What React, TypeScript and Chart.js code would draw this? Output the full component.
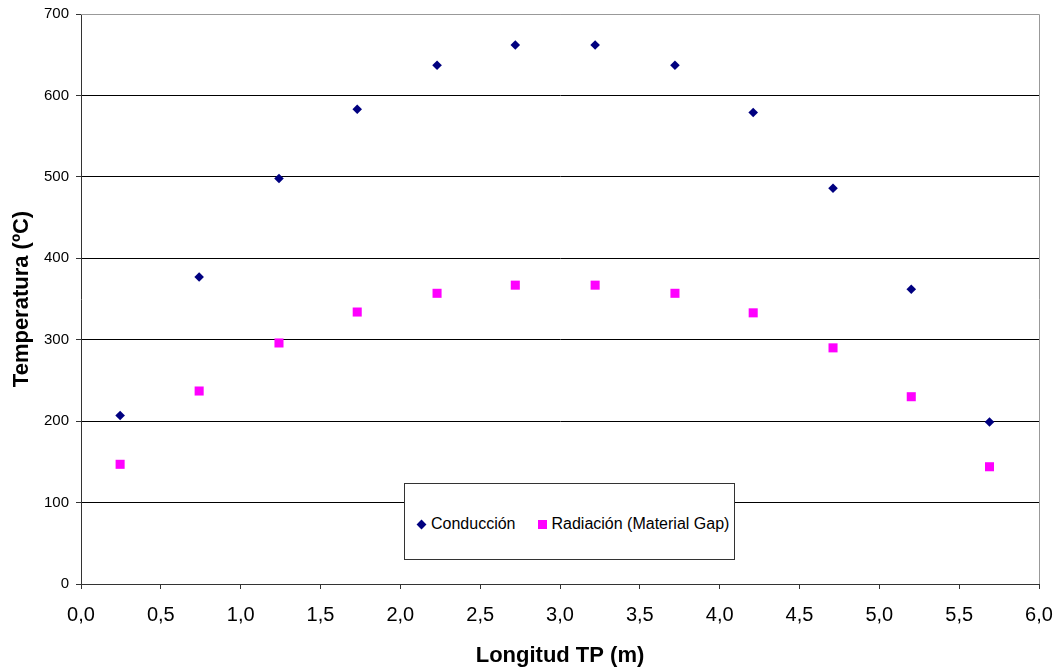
import React, { useEffect, useRef } from "react";
import { Chart, registerables } from "chart.js";

Chart.register(...registerables);

const xPositions = [0.245, 0.74, 1.24, 1.73, 2.23, 2.72, 3.22, 3.72, 4.21, 4.71, 5.2, 5.69];
const conduccion = [207, 377, 498, 583, 637, 662, 662, 637, 579, 486, 362, 199];
const radiacion = [147, 237, 296, 334, 357, 367, 367, 357, 333, 290, 230, 144];
const seriesNames = ["Conducción", "Radiación (Material Gap)"];
const xTitle = "Longitud TP (m)";
const yTitle = "Temperatura (ºC)";

const FONT = "'Liberation Sans', Arial, sans-serif";

const frame = {
  id: "frame",
  afterDraw(chart: any) {
    const { ctx, chartArea } = chart;
    ctx.save();
    ctx.strokeStyle = "#999999";
    ctx.lineWidth = 1;
    ctx.beginPath();
    ctx.moveTo(chartArea.left, chartArea.top + 0.5);
    ctx.lineTo(chartArea.right + 0.5, chartArea.top + 0.5);
    ctx.lineTo(chartArea.right + 0.5, chartArea.bottom);
    ctx.stroke();
    ctx.restore();
  },
};

export default function App() {
  const ref = useRef<HTMLCanvasElement>(null);
  useEffect(() => {
    document.body.style.margin = "0";
    const chart = new Chart(ref.current as HTMLCanvasElement, {
      type: "scatter",
      data: {
        datasets: [
          {
            label: seriesNames[0],
            data: xPositions.map((x, i) => ({ x, y: conduccion[i] })),
            pointStyle: "rectRot",
            pointRadius: 4.8,
            backgroundColor: "#000080",
            borderColor: "#000080",
            borderWidth: 0,
          },
          {
            label: seriesNames[1],
            data: xPositions.map((x, i) => ({ x, y: radiacion[i] })),
            pointStyle: "rect",
            pointRadius: 6.4,
            backgroundColor: "#FF00FF",
            borderColor: "#FF00FF",
            borderWidth: 0,
          },
        ],
      },
      options: {
        animation: false,
        responsive: false,
        layout: { padding: { left: 0, top: 14, right: 21, bottom: 0 } },
        plugins: { legend: { display: false }, tooltip: { enabled: false } },
        scales: {
          x: {
            type: "linear",
            min: 0,
            max: 6,
            afterFit: (s: any) => {
              s.height = 85;
              s.paddingLeft = 0;
              s.paddingRight = 0;
            },
            ticks: {
              stepSize: 0.5,
              color: "#000",
              font: { family: FONT, size: 20 },
              padding: 14,
              callback: (v: any) => Number(v).toFixed(1).replace(".", ","),
            },
            grid: { drawOnChartArea: false, drawTicks: true, tickLength: 5, color: "#333" },
            border: { color: "#333", width: 1 },
            title: {
              display: true,
              text: xTitle,
              color: "#000",
              font: { family: FONT, size: 22, weight: "bold" },
              padding: { top: 0, bottom: 0 },
            },
          },
          y: {
            min: 0,
            max: 700,
            afterFit: (s: any) => {
              s.width = 81;
              s.paddingTop = 0;
              s.paddingBottom = 0;
            },
            ticks: {
              stepSize: 100,
              color: "#000",
              font: { family: FONT, size: 15 },
              padding: 7,
            },
            grid: {
              color: (c: any) => (c.tick && c.tick.value === 700 ? "#999999" : "#000"),
              tickColor: "#333",
              tickLength: 5,
              lineWidth: 1,
            },
            border: { color: "#333", width: 1 },
            title: {
              display: true,
              text: yTitle,
              color: "#000",
              font: { family: FONT, size: 22, weight: "bold" },
              padding: { top: 9, bottom: 0 },
            },
          },
        },
      },
      plugins: [frame],
    } as any);
    return () => chart.destroy();
  }, []);

  return (
    <div style={{ position: "relative", width: 1060, height: 669, background: "#fff" }}>
      <canvas ref={ref} width={1060} height={669} style={{ display: "block" }} />
      <div
        style={{
          position: "absolute",
          left: 404,
          top: 483,
          width: 331,
          height: 77,
          border: "1px solid #333",
          background: "#fff",
          boxSizing: "border-box",
          fontFamily: FONT,
          fontSize: 16,
          color: "#000",
          display: "flex",
          alignItems: "center",
          paddingLeft: 13,
          paddingTop: 5,
        }}
      >
        <span style={{ display: "inline-block", width: 7, height: 7, background: "#000080", transform: "rotate(45deg)", marginRight: 6 }} />
        <span>{seriesNames[0]}</span>
        <span style={{ display: "inline-block", width: 9, height: 9, background: "#FF00FF", marginLeft: 22, marginRight: 5 }} />
        <span>{seriesNames[1]}</span>
      </div>
    </div>
  );
}
